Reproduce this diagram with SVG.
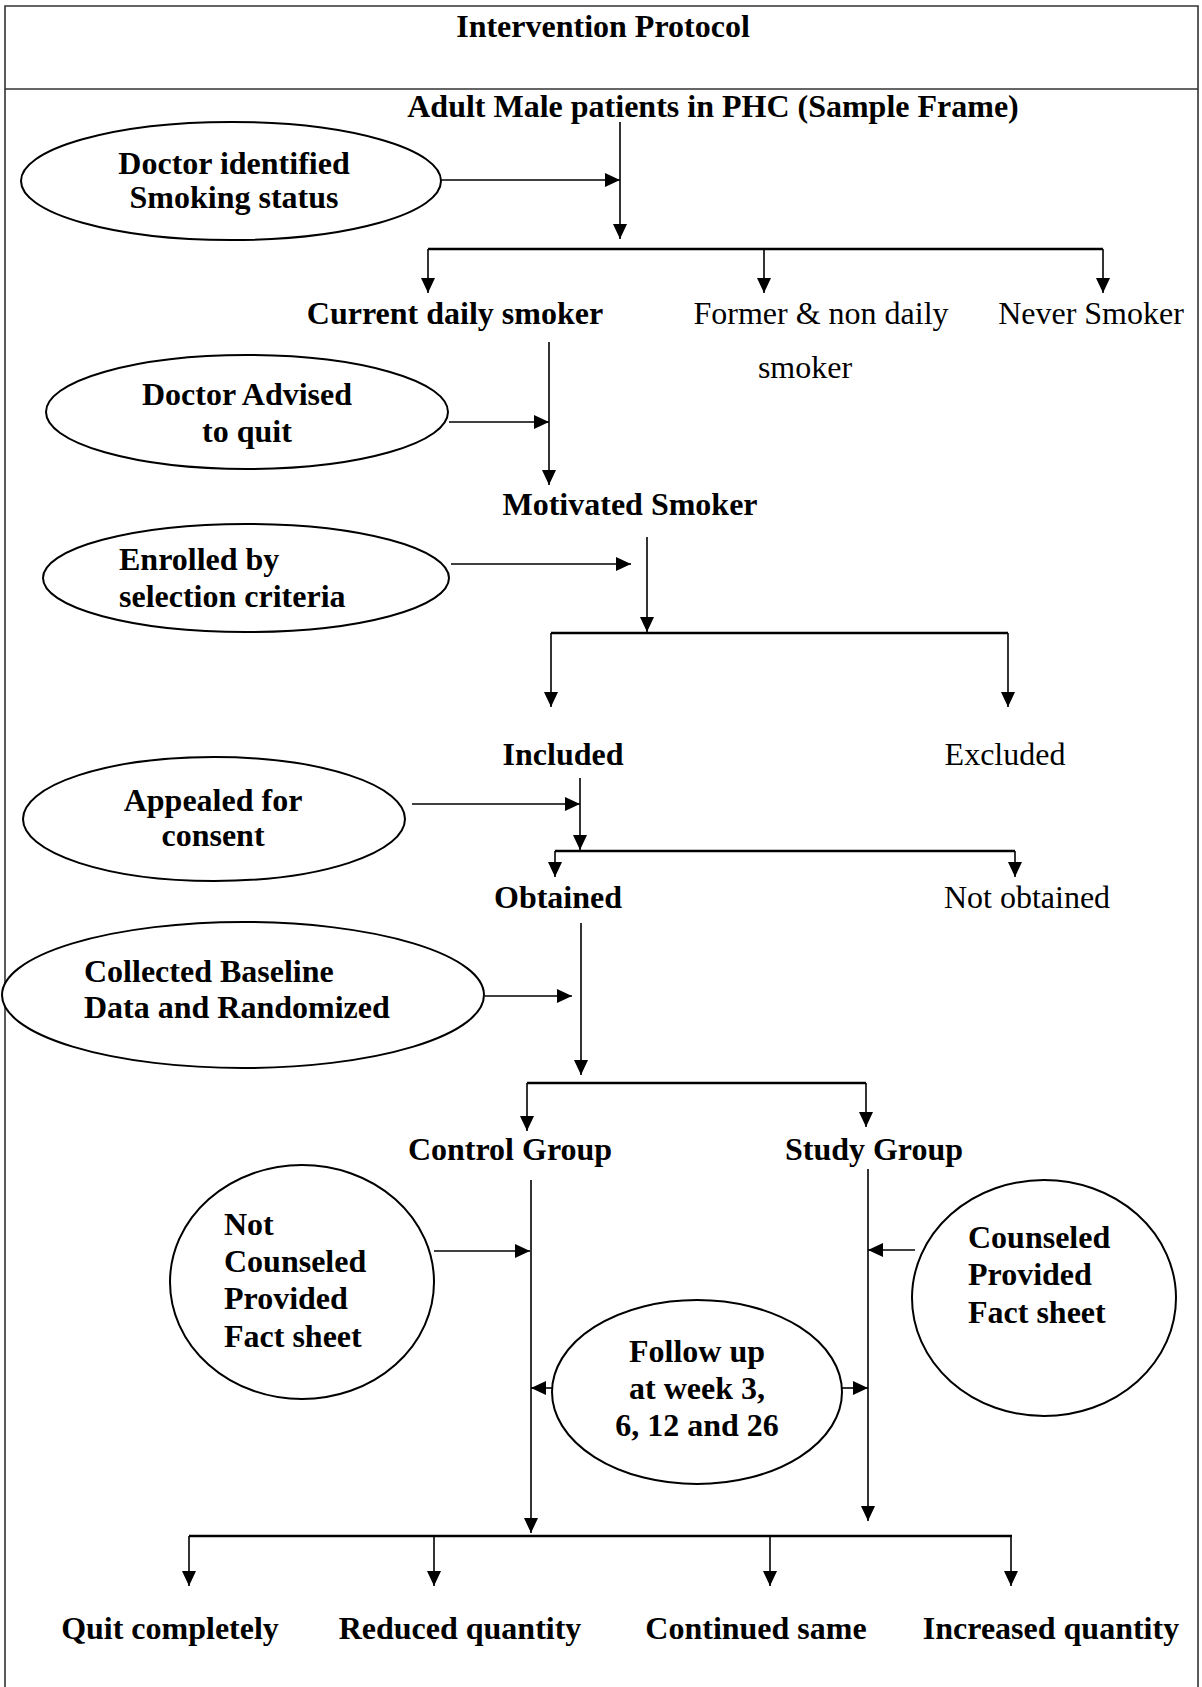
<svg xmlns="http://www.w3.org/2000/svg" width="1202" height="1687" viewBox="0 0 1202 1687">
<style>
  .t{font-family:"Liberation Serif","Times New Roman",serif;font-size:32px;fill:#000}
  .b{font-weight:bold}
  .m{text-anchor:middle}
  .el{fill:#fff;stroke:#000;stroke-width:2}
  .ln{fill:none;stroke:#000;stroke-width:1.6}
  .br{fill:none;stroke:#000;stroke-width:2.4}
  .fr{fill:none;stroke:#333;stroke-width:1.6}
</style>
<defs>
  <marker id="ah" viewBox="0 0 15 14" refX="15" refY="7" markerWidth="15" markerHeight="14" orient="auto" markerUnits="userSpaceOnUse">
    <path d="M0,0 L15,7 L0,14 z" fill="#000"/>
  </marker>
</defs>
<rect width="1202" height="1687" fill="#fff"/>
<g id="frame">
  <path class="fr" d="M5,1687 L5,6 L1198,6 L1198,1687"/>
  <line class="fr" x1="5" y1="89" x2="1198" y2="89"/>
  <text class="t b m" x="603" y="37">Intervention Protocol</text>
</g>
<g id="connectors">
  <line class="ln" x1="620" y1="122" x2="620" y2="239" marker-end="url(#ah)"/>
  <line class="ln" x1="441" y1="180" x2="620" y2="180" marker-end="url(#ah)"/>
  <line class="br" x1="428" y1="249" x2="1103" y2="249"/>
  <line class="ln" x1="428" y1="249" x2="428" y2="293" marker-end="url(#ah)"/>
  <line class="ln" x1="764" y1="249" x2="764" y2="293" marker-end="url(#ah)"/>
  <line class="ln" x1="1103" y1="249" x2="1103" y2="293" marker-end="url(#ah)"/>
  <line class="ln" x1="549" y1="342" x2="549" y2="485" marker-end="url(#ah)"/>
  <line class="ln" x1="449" y1="422" x2="549" y2="422" marker-end="url(#ah)"/>
  <line class="ln" x1="647" y1="537" x2="647" y2="632" marker-end="url(#ah)"/>
  <line class="ln" x1="451" y1="564" x2="631" y2="564" marker-end="url(#ah)"/>
  <line class="br" x1="551" y1="633" x2="1008" y2="633"/>
  <line class="ln" x1="551" y1="633" x2="551" y2="707" marker-end="url(#ah)"/>
  <line class="ln" x1="1008" y1="633" x2="1008" y2="707" marker-end="url(#ah)"/>
  <line class="ln" x1="580" y1="778" x2="580" y2="850" marker-end="url(#ah)"/>
  <line class="ln" x1="412" y1="804" x2="580" y2="804" marker-end="url(#ah)"/>
  <line class="br" x1="555" y1="851" x2="1015" y2="851"/>
  <line class="ln" x1="555" y1="851" x2="555" y2="877" marker-end="url(#ah)"/>
  <line class="ln" x1="1015" y1="851" x2="1015" y2="877" marker-end="url(#ah)"/>
  <line class="ln" x1="581" y1="923" x2="581" y2="1075" marker-end="url(#ah)"/>
  <line class="ln" x1="485" y1="996" x2="572" y2="996" marker-end="url(#ah)"/>
  <line class="br" x1="527" y1="1083" x2="866" y2="1083"/>
  <line class="ln" x1="527" y1="1083" x2="527" y2="1131" marker-end="url(#ah)"/>
  <line class="ln" x1="866" y1="1083" x2="866" y2="1127" marker-end="url(#ah)"/>
  <line class="ln" x1="531" y1="1180" x2="531" y2="1533" marker-end="url(#ah)"/>
  <line class="ln" x1="868" y1="1169" x2="868" y2="1521" marker-end="url(#ah)"/>
  <line class="ln" x1="434" y1="1251" x2="530" y2="1251" marker-end="url(#ah)"/>
  <line class="ln" x1="915" y1="1250" x2="868" y2="1250" marker-end="url(#ah)"/>
  <line class="ln" x1="553" y1="1388" x2="531" y2="1388" marker-end="url(#ah)"/>
  <line class="ln" x1="842" y1="1388" x2="868" y2="1388" marker-end="url(#ah)"/>
  <line class="br" x1="189" y1="1536" x2="1012" y2="1536"/>
  <line class="ln" x1="189" y1="1536" x2="189" y2="1586" marker-end="url(#ah)"/>
  <line class="ln" x1="434" y1="1536" x2="434" y2="1586" marker-end="url(#ah)"/>
  <line class="ln" x1="770" y1="1536" x2="770" y2="1586" marker-end="url(#ah)"/>
  <line class="ln" x1="1011" y1="1536" x2="1011" y2="1586" marker-end="url(#ah)"/>
</g>
<g id="n-sample"><text class="t b m" x="713" y="117">Adult Male patients in PHC (Sample Frame)</text></g>
<g id="n-doc-identified">
  <ellipse class="el" cx="231" cy="181" rx="210" ry="59"/>
  <text class="t b m" x="234" y="174">Doctor identified</text>
  <text class="t b m" x="234" y="208">Smoking status</text>
</g>
<g id="n-current"><text class="t b m" x="455" y="324">Current daily smoker</text></g>
<g id="n-former"><text class="t m" x="821" y="324">Former &amp; non daily</text><text class="t m" x="805" y="378">smoker</text></g>
<g id="n-never"><text class="t m" x="1091" y="324">Never Smoker</text></g>
<g id="n-doc-advised">
  <ellipse class="el" cx="247" cy="412" rx="201" ry="57"/>
  <text class="t b m" x="247" y="405">Doctor Advised</text>
  <text class="t b m" x="247" y="442">to quit</text>
</g>
<g id="n-motivated"><text class="t b m" x="630" y="515">Motivated Smoker</text></g>
<g id="n-enrolled">
  <ellipse class="el" cx="246" cy="578" rx="203" ry="54"/>
  <text class="t b" x="119" y="570">Enrolled by</text>
  <text class="t b" x="119" y="607">selection criteria</text>
</g>
<g id="n-included"><text class="t b m" x="563" y="765">Included</text></g>
<g id="n-excluded"><text class="t m" x="1005" y="765">Excluded</text></g>
<g id="n-appealed">
  <ellipse class="el" cx="214" cy="819" rx="191" ry="62"/>
  <text class="t b m" x="213" y="811">Appealed for</text>
  <text class="t b m" x="213" y="846">consent</text>
</g>
<g id="n-obtained"><text class="t b m" x="558" y="908">Obtained</text></g>
<g id="n-not-obtained"><text class="t m" x="1027" y="908">Not obtained</text></g>
<g id="n-collected">
  <ellipse class="el" cx="243" cy="995" rx="241" ry="73"/>
  <text class="t b" x="84" y="982">Collected Baseline</text>
  <text class="t b" x="84" y="1018">Data and Randomized</text>
</g>
<g id="n-control"><text class="t b m" x="510" y="1160">Control Group</text></g>
<g id="n-study"><text class="t b m" x="874" y="1160">Study Group</text></g>
<g id="n-not-counseled">
  <ellipse class="el" cx="302" cy="1282" rx="132" ry="117"/>
  <text class="t b" x="224" y="1235">Not</text>
  <text class="t b" x="224" y="1272">Counseled</text>
  <text class="t b" x="224" y="1309">Provided</text>
  <text class="t b" x="224" y="1347">Fact sheet</text>
</g>
<g id="n-counseled">
  <ellipse class="el" cx="1044" cy="1298" rx="132" ry="118"/>
  <text class="t b" x="968" y="1248">Counseled</text>
  <text class="t b" x="968" y="1285">Provided</text>
  <text class="t b" x="968" y="1323">Fact sheet</text>
</g>
<g id="n-followup">
  <ellipse class="el" cx="697" cy="1392" rx="145" ry="92"/>
  <text class="t b m" x="697" y="1362">Follow up</text>
  <text class="t b m" x="697" y="1399">at week 3,</text>
  <text class="t b m" x="697" y="1436">6, 12 and 26</text>
</g>
<g id="n-quit"><text class="t b m" x="170" y="1639">Quit completely</text></g>
<g id="n-reduced"><text class="t b m" x="460" y="1639">Reduced quantity</text></g>
<g id="n-continued"><text class="t b m" x="756" y="1639">Continued same</text></g>
<g id="n-increased"><text class="t b m" x="1051" y="1639">Increased quantity</text></g>
</svg>
